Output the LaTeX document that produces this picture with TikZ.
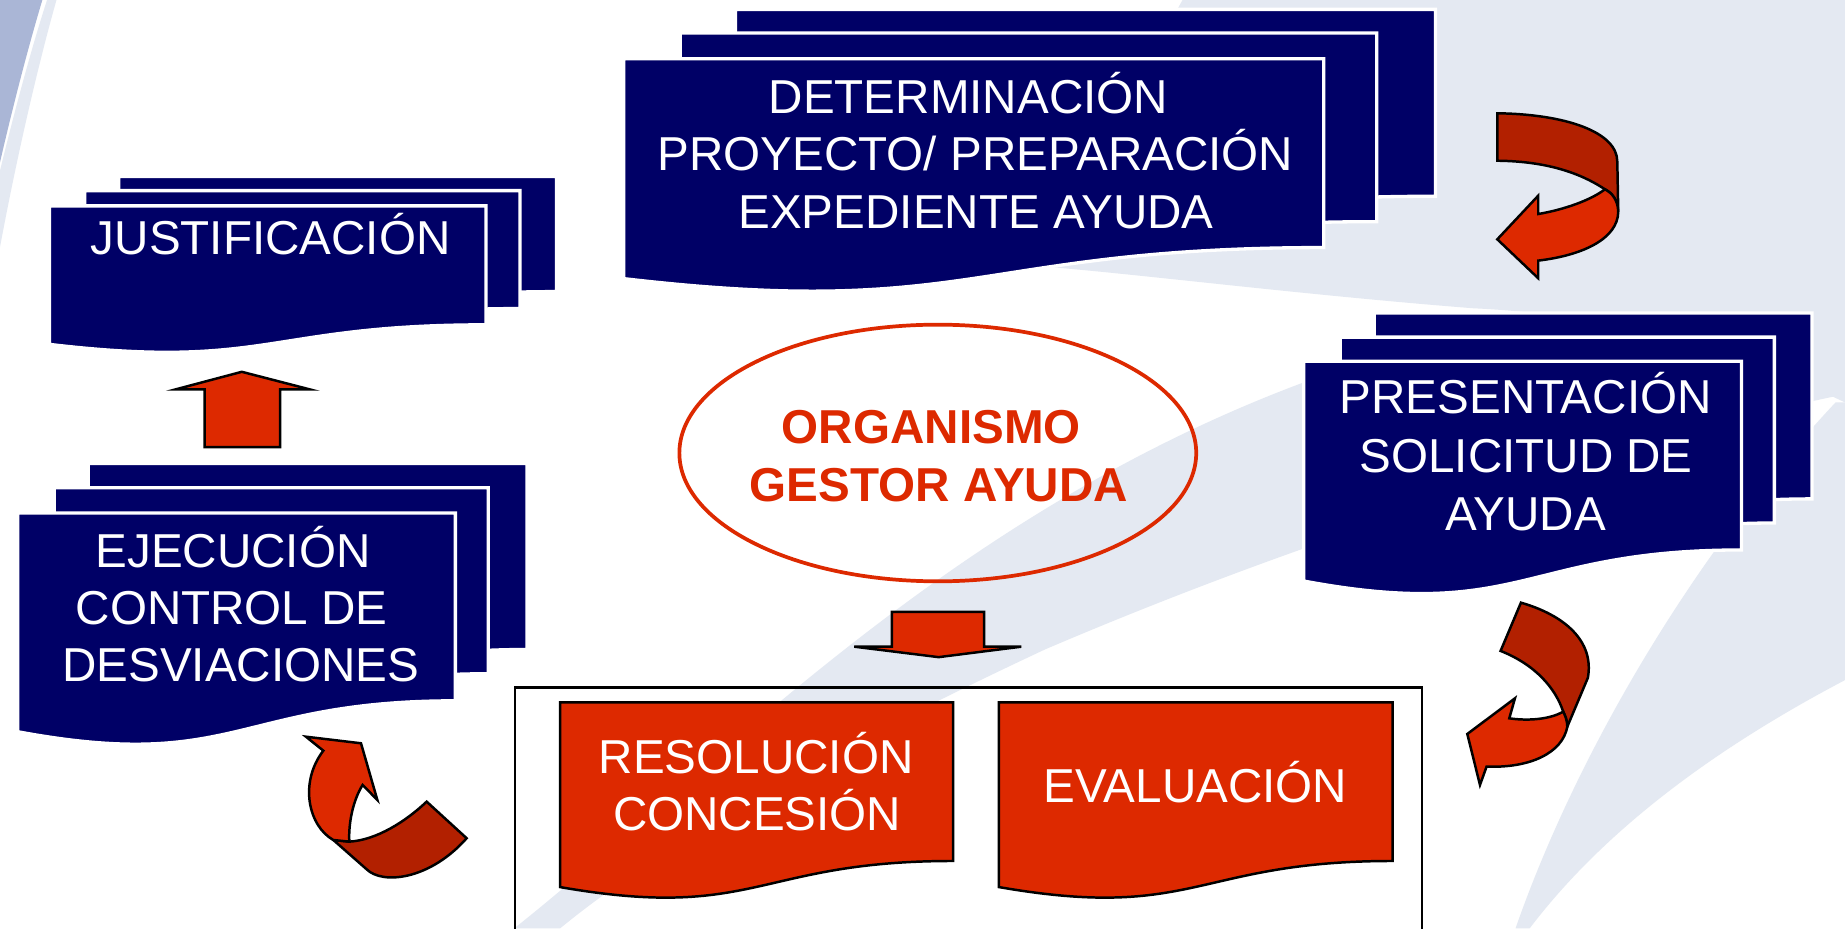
\documentclass[tikz,border=0pt]{standalone}
\usepackage{fontspec}
\setmainfont{Liberation Sans}
\usetikzlibrary{shapes.geometric}
\definecolor{navy}{RGB}{0,0,102}
\definecolor{redA}{RGB}{221,41,0}
\definecolor{redB}{RGB}{178,32,0}
\definecolor{bgA}{RGB}{228,233,242}
\definecolor{bgD}{RGB}{170,182,214}
\newcommand{\docsheet}[5]{%
  \path[#5] (#1,#2) -- (#3,#2) -- (#3,{#2+0.802*#4})
    .. controls ({(#1+#3)/2},{#2+0.802*#4}) and ({(#1+#3)/2},{#2+1.1075*#4})
    .. (#1,{#2+0.934*#4}) -- cycle;}
\tikzset{
  sheet/.style={fill=navy, draw=white, line width=0.8pt},
  reddoc/.style={fill=redA, draw=black, line width=0.6pt},
  bright/.style={fill=redA, draw=black, line width=0.6pt, line join=miter},
  darkpart/.style={fill=redB, draw=black, line width=0.6pt, line join=miter},
  lbl/.style={anchor=base, inner sep=0pt, text=white, font=\fontsize{11.5pt}{13.9pt}\selectfont},
  orglbl/.style={anchor=base, inner sep=0pt, text=redA, font=\fontsize{11.5pt}{13.9pt}\selectfont\bfseries},
  bgband/.style={fill=bgA, draw=none}
}
\begin{document}
\begin{tikzpicture}[x=0.01cm, y=-0.01cm]
\useasboundingbox (0,0) rectangle (1568,789);
\clip (0,0) rectangle (1568,789);
\fill[white] (0,0) rectangle (1568,789);

% background swooshes
\fill[bgD] (0,0) -- (36,0) .. controls (24,40) and (11,90) .. (0,138) -- cycle;
\fill[bgA] (40,0) -- (48,0) .. controls (31,60) and (13,140) .. (0,210) -- (0,145) .. controls (13,92) and (27,40) .. (40,0) -- cycle;
\path[bgband] (1005,0) -- (1568,0) -- (1568,342) .. controls (1480,300) and (1380,268) .. (1252,262)
   .. controls (1100,250) and (960,232) .. (880,226) -- cycle;
\path[bgband] (437,789) .. controls (600,660) and (800,440) .. (1108,325)
   .. controls (1300,270) and (1450,255) .. (1568,250) -- (1568,335)
   .. controls (1400,370) and (1150,440) .. (888,552)
   .. controls (700,640) and (560,720) .. (476,789) -- cycle;
\path[bgband] (1288,789) .. controls (1340,640) and (1440,470) .. (1560,342) -- (1568,342) -- (1568,578)
   .. controls (1450,640) and (1360,710) .. (1300,789) -- cycle;

% DETERMINACION stack
\docsheet{625}{8}{1220}{198}{sheet}
\docsheet{578}{28}{1170}{200}{sheet}
\docsheet{530}{50}{1125}{200}{sheet}
\node[lbl] (det1) at (823,96.5) {DETERMINACIÓN};
\node[lbl] (det2) at (829,145) {PROYECTO/ PREPARACIÓN};
\node[lbl] (det3) at (829.5,194) {EXPEDIENTE AYUDA};

% JUSTIFICACION stack
\docsheet{101}{150}{473}{122}{sheet}
\docsheet{72}{162}{442}{125}{sheet}
\docsheet{42}{175}{413}{126}{sheet}
\node[lbl] (just) at (230,216.7) {JUSTIFICACIÓN};

% EJECUCION stack
\docsheet{75}{394}{448}{197}{sheet}
\docsheet{46}{414.6}{415}{197}{sheet}
\docsheet{15}{436}{387}{199}{sheet}
\node[lbl] (eje1) at (198,482) {EJECUCIÓN};
\node[lbl] (eje2) at (197,530.5) {CONTROL DE};
\node[lbl] (eje3) at (204.6,579.5) {DESVIACIONES};

% PRESENTACION stack
\docsheet{1168}{266}{1540}{197}{sheet}
\docsheet{1139}{286.5}{1508}{197}{sheet}
\docsheet{1108}{307}{1480}{200}{sheet}
\node[lbl] (pre1) at (1296.6,351.6) {PRESENTACIÓN};
\node[lbl] (pre2) at (1297,401.6) {SOLICITUD DE};
\node[lbl] (pre3) at (1296.8,450.5) {AYUDA};

% central ellipse
\node[ellipse, draw=redA, line width=0.9pt, minimum width=4.39cm, minimum height=2.18cm, inner sep=0pt] (org) at (797,385) {};
\node[orglbl] (org1) at (791.5,376.7) {ORGANISMO};
\node[orglbl] (org2) at (798,426) {GESTOR AYUDA};

% bottom frame
\draw[black, line width=0.6pt] (437.8,800) -- (437.8,584.4) -- (1208.5,584.4) -- (1208.5,800);
\docsheet{476}{597}{810}{168}{reddoc}
\docsheet{849}{597}{1183.6}{168}{reddoc}
\node[lbl] (res1) at (642.6,657.8) {RESOLUCIÓN};
\node[lbl] (res2) at (643.5,706.2) {CONCESIÓN};
\node[lbl] (eva) at (1016,681.9) {EVALUACIÓN};

% straight block arrows
\path[bright] (174,380) -- (174,331) -- (149,331) -- (205.5,316) -- (263.5,331) -- (238,331) -- (238,380) -- cycle;
\path[bright] (758,520) -- (836.4,520) -- (836.4,549.6) -- (868,549.6) -- (797.7,558.5) -- (726,549.6) -- (758,549.6) -- cycle;

% curved arrow 1 (top right)
\path[darkpart] (1272.5,96.3) .. controls (1330,97) and (1374.5,112) .. (1374.5,137.4) -- (1375.3,179.9)
   .. controls (1375,170) and (1370,164) .. (1364,160.9)
   .. controls (1340,145) and (1310,137) .. (1272.5,136.6) -- cycle;
\path[bright] (1375.3,179.9) .. controls (1375,203) and (1345,217) .. (1307.3,221.5) -- (1307.3,236.5)
   -- (1272.5,203.4) -- (1307.3,166.3) -- (1307.3,181.9)
   .. controls (1330,178) and (1352,170) .. (1364,160.9)
   .. controls (1370,164) and (1375,170) .. (1375.3,179.9) -- cycle;

% curved arrow 2 (right)
\path[darkpart] (1292.6,512.2) .. controls (1330,523) and (1355,545) .. (1349.5,576) -- (1332,617.6)
   .. controls (1332,612) and (1330,608) .. (1328.5,604.8)
   .. controls (1322,585) and (1305,565) .. (1275.3,553.2) -- cycle;
\path[bright] (1332,617.6) .. controls (1328,640) and (1300,653) .. (1263.4,651.5) -- (1257.8,667.1)
   -- (1247,623.8) -- (1287.5,593.5) -- (1282.7,610.5)
   .. controls (1300,613) and (1318,611) .. (1328.5,604.8)
   .. controls (1330,608) and (1332,612) .. (1332,617.6) -- cycle;

% curved arrow 3 (bottom left)
\path[darkpart] (283.3,713.9) -- (311.6,738.8) .. controls (325,752) and (365,748) .. (396.6,712.4)
   -- (362.6,681.3) .. controls (345,698) and (320,714) .. (296.9,715.3) -- cycle;
\path[bright] (260,626.1) -- (306.8,631.7) -- (320.7,679.9) -- (308.2,667.1)
   .. controls (300,680) and (296,700) .. (296.9,715.3) -- (283.3,713.9)
   .. controls (262,702) and (254,665) .. (274.8,638) -- cycle;
\end{tikzpicture}
\end{document}
